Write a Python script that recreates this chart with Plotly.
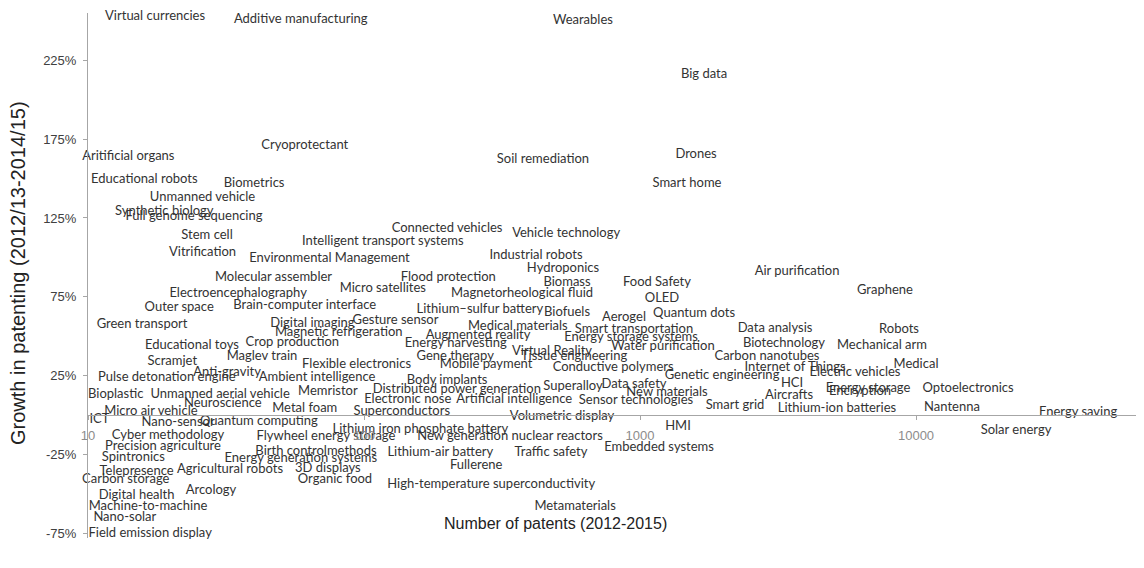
import plotly.graph_objects as go

# Technology fields
labels = [
    "Virtual currencies", "Additive manufacturing", "Wearables", "Big data", "Cryoprotectant",
    "Aritificial organs", "Soil remediation", "Drones", "Smart home", "Educational robots",
    "Biometrics", "Unmanned vehicle", "Synthetic biology", "Full genome sequencing", "Stem cell",
    "Vitrification", "Environmental Management", "Intelligent transport systems", "Connected vehicles", "Vehicle technology",
    "Industrial robots", "Hydroponics", "Biomass", "Magnetorheological fluid", "Flood protection",
    "Micro satellites", "Molecular assembler", "Electroencephalography", "Outer space", "Brain-computer interface",
    "Green transport", "Digital imaging", "Magnetic refrigeration", "Gesture sensor", "Lithium\u2013sulfur battery",
    "Biofuels", "Medical materials", "Crop production", "Educational toys", "Augmented reality",
    "Energy harvesting", "Smart transportation", "Aerogel", "Quantum dots", "Food Safety",
    "OLED", "Air purification", "Graphene", "Data analysis", "Robots",
    "Energy storage systems", "Water purification", "Biotechnology", "Mechanical arm", "Virtual Reality",
    "Tissue engineering", "Carbon nanotubes", "Gene therapy", "Mobile payment", "Conductive polymers",
    "Flexible electronics", "Maglev train", "Scramjet", "Medical", "Internet of Things",
    "Electric vehicles", "Genetic engineering", "HCI", "Anti-gravity", "Pulse detonation engine",
    "Ambient intelligence", "Body implants", "Superalloy", "Data safety", "New materials",
    "Aircrafts", "Energy storage", "Encryption", "Optoelectronics", "Smart grid",
    "Lithium-ion batteries", "Nantenna", "Energy saving", "Solar energy", "HMI",
    "Embedded systems", "Sensor technologies", "Artificial intelligence", "Distributed power generation", "Electronic nose",
    "Memristor", "Unmanned aerial vehicle", "Bioplastic", "Neuroscience", "Metal foam",
    "Superconductors", "Volumetric display", "Micro air vehicle", "ICT", "Nano-sensor",
    "Quantum computing", "Lithium iron phosphate battery", "Flywheel energy storage", "New generation nuclear reactors", "Cyber methodology",
    "Precision agriculture", "Birth controlmethods", "Lithium-air battery", "Traffic safety", "Spintronics",
    "Energy generation systems", "Fullerene", "Agricultural robots", "3D displays", "Telepresence",
    "Carbon storage", "Organic food", "High-temperature superconductivity", "Digital health", "Arcology",
    "Machine-to-machine", "Nano-solar", "Field emission display", "Metamaterials",
]

# Number of patents (2012-2015)
patents = [
    17.5, 59, 621, 1706, 61,
    14, 445, 1596, 1480, 16,
    40, 26, 18.9, 24.2, 27,
    26, 75, 117, 200, 540,
    420, 526, 544, 374, 202,
    117, 47, 35, 21.4, 61,
    15.7, 65, 81, 130, 263,
    544, 361, 55, 23.8, 259,
    215, 951, 875, 1570, 1152,
    1201, 3706, 7719, 3084, 8679,
    928, 1211, 3324, 7529, 480,
    577, 2884, 214, 277, 799,
    94, 42.7, 20.2, 10000, 3645,
    6012, 1982, 3554, 31.9, 19.3,
    67.6, 200, 572, 951, 1253,
    3467, 6701, 6268, 15433, 2209,
    5173, 13502, 38640, 23030, 1373,
    1172, 967, 350, 217, 144,
    74, 30.1, 12.6, 30.8, 61,
    137, 522, 16.9, 11, 21.2,
    41.6, 160, 72.8, 338, 19.5,
    18.7, 67, 189, 476, 14.6,
    59, 255, 32.7, 74, 15,
    13.7, 78.5, 289, 15, 27.9,
    16.5, 13.6, 16.8, 582,
]

# Growth in patenting (2012/13-2014/15), percent
growth = [
    252.5, 251, 250, 216, 171,
    164, 162, 165, 147, 149,
    147, 138, 129, 126, 114,
    103, 99, 110, 118, 115,
    101, 93, 84, 77, 87,
    80, 87, 77, 68, 69,
    57, 58, 52, 60, 67,
    65, 56, 46, 44, 50,
    45, 54, 62, 64, 84,
    74, 91, 79, 55, 54,
    49, 43, 45, 44, 40,
    37, 37, 37, 32, 30,
    32, 37, 34, 32, 30,
    27, 25, 20, 27, 23.5,
    23.5, 22, 18, 19, 14,
    12, 16.5, 14.6, 16.5, 6,
    4, 4.4, 1.3, -10, -7.6,
    -21, 9, 10, 16, 10,
    15, 13, 13, 7, 4,
    2, -1, 2, -3, -5,
    -4.4, -9.5, -14, -14, -13,
    -20, -23, -24, -24, -27,
    -28, -32, -35, -34, -36,
    -41, -41, -44, -51, -48,
    -58, -65, -75, -58,
]

y_tickvals = [-75, -25, 25, 75, 125, 175, 225]
y_ticktext = ["-75%", "-25%", "25%", "75%", "125%", "175%", "225%"]
x_tickvals = [10, 100, 1000, 10000]
x_ticktext = ["10", "100", "1000", "10000"]

y_min, y_max = -78, 255

fig = go.Figure()
fig.add_trace(go.Scatter(
    x=patents, y=growth, text=labels, mode="text",
    textposition="middle center",
    textfont=dict(family="Lato", size=13, color="#333333"),
    cliponaxis=False, hoverinfo="text", showlegend=False,
))

fig.update_layout(
    width=1136, height=560,
    margin=dict(l=80, r=0, t=5, b=30),
    paper_bgcolor="white", plot_bgcolor="white",
    xaxis=dict(
        type="log", range=[1, 4.826],
        anchor="free", position=(0 - y_min) / (y_max - y_min),
        showline=True, linecolor="#a6a6a6", linewidth=1,
        showgrid=False, zeroline=False,
        ticks="outside", ticklen=4, tickcolor="#a6a6a6",
        tickvals=x_tickvals, ticktext=x_ticktext, ticklabelstandoff=4,
        tickfont=dict(family="Liberation Sans", size=13, color="#8c8c8c"),
    ),
    yaxis=dict(
        range=[y_min, y_max],
        showline=True, linecolor="#a6a6a6", linewidth=1,
        showgrid=False, zeroline=False,
        ticks="outside", ticklen=4, tickcolor="#a6a6a6",
        tickvals=y_tickvals, ticktext=y_ticktext, ticklabelstandoff=4,
        tickfont=dict(family="Liberation Sans", size=13, color="#404040"),
    ),
    annotations=[
        dict(text="Number of patents (2012-2015)", xref="paper", yref="paper",
             x=(555 - 88) / 1056, y=(538 - 523) / 525, xanchor="center", yanchor="middle",
             showarrow=False, font=dict(family="Liberation Sans", size=16, color="#222")),
        dict(text="Growth in patenting (2012/13-2014/15)", xref="paper", yref="paper",
             x=(18 - 88) / 1056, y=(538 - 273) / 525, xanchor="center", yanchor="middle", textangle=-90,
             showarrow=False, font=dict(family="Liberation Sans", size=20, color="#222")),
    ],
)

fig.write_html("out.html")
